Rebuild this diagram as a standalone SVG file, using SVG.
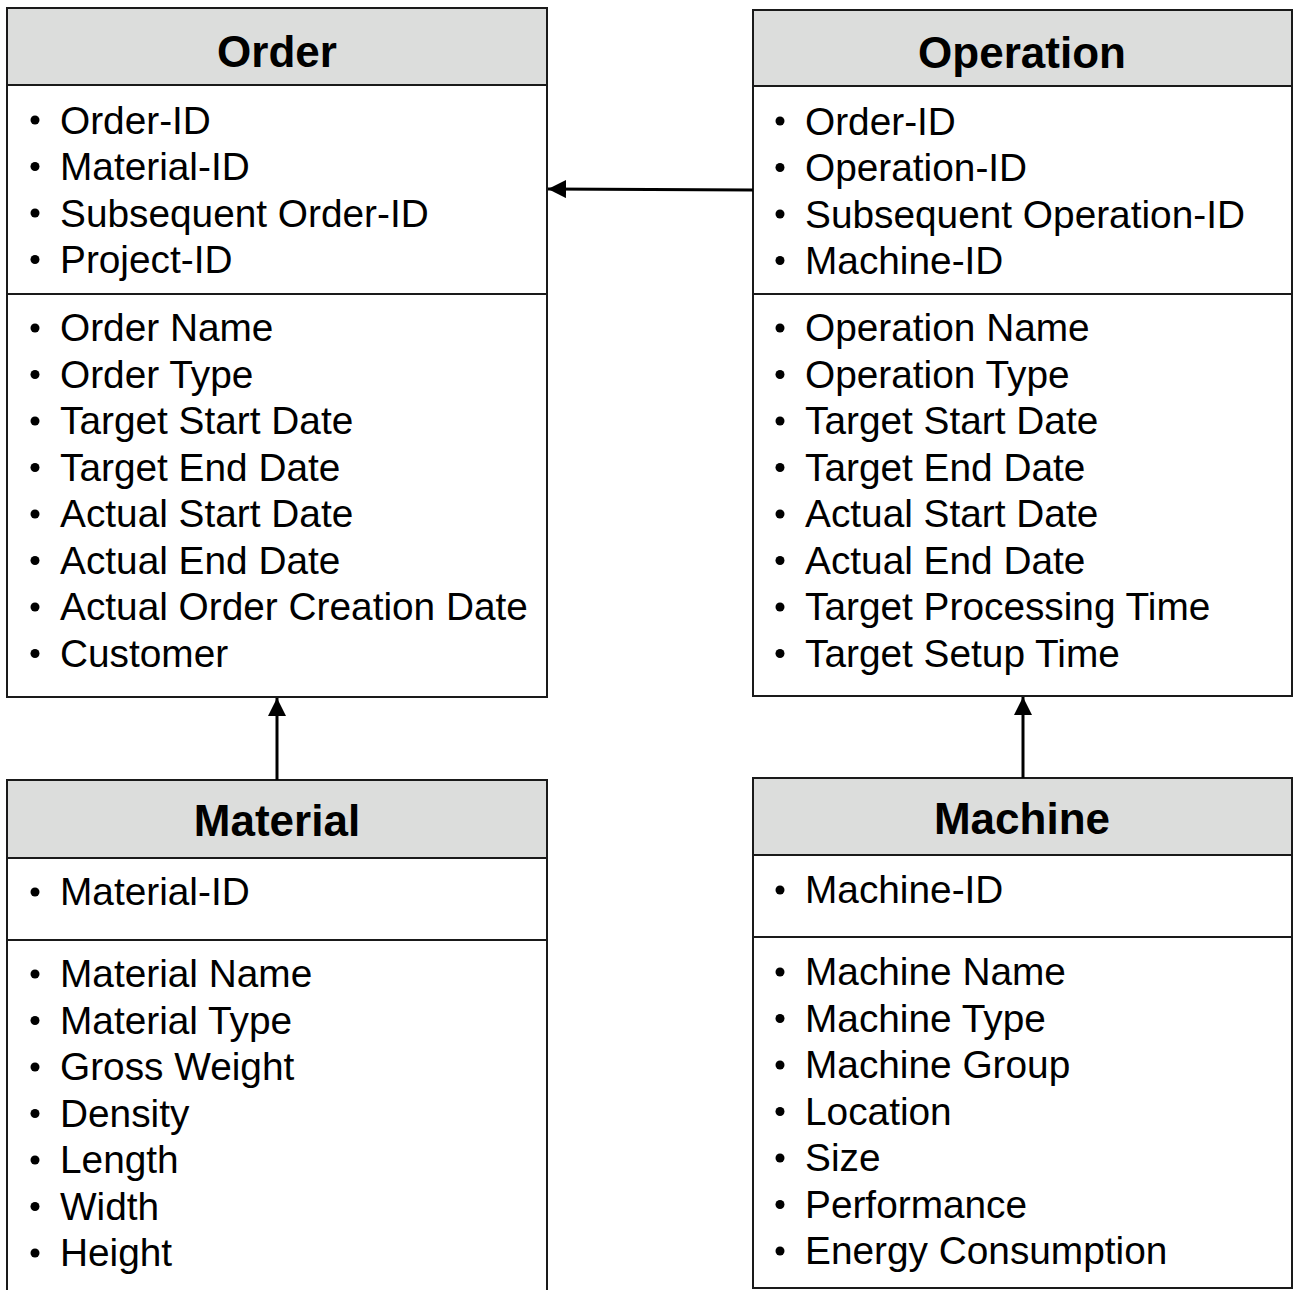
<svg xmlns="http://www.w3.org/2000/svg" width="1293" height="1290" viewBox="0 0 1293 1290">
<defs>
<style>
.box{fill:#ffffff;stroke:#1a1a1a;stroke-width:2}
.hdr{fill:#dcdddc;stroke:#1a1a1a;stroke-width:2}
.div{stroke:#1a1a1a;stroke-width:2}
.title{font-family:"Liberation Sans",Arial,sans-serif;font-weight:bold;font-size:44px;fill:#000;text-anchor:middle}
.item{font-family:"Liberation Sans",Arial,sans-serif;font-size:38.8px;fill:#000}
.bul{fill:#000}
.conn{stroke:#000;stroke-width:3;fill:none}
</style>
<marker id="arr" viewBox="0 0 10 10" refX="10" refY="5" markerWidth="6" markerHeight="6" markerUnits="strokeWidth" orient="auto">
<path d="M0,0 L10,5 L0,10 Z" fill="#000"/>
</marker>
</defs>
<rect width="1293" height="1290" fill="#ffffff"/>

<g id="order">
<rect class="box" x="7" y="8" width="540" height="689"/>
<rect class="hdr" x="7" y="8" width="540" height="77"/>
<line class="div" x1="7" y1="294" x2="547" y2="294"/>
<text class="title" x="277" y="67">Order</text>
<g class="bul">
<circle cx="35" cy="120" r="4.5"/><circle cx="35" cy="166.5" r="4.5"/><circle cx="35" cy="213" r="4.5"/><circle cx="35" cy="259.5" r="4.5"/>
<circle cx="35" cy="328" r="4.5"/><circle cx="35" cy="374.5" r="4.5"/><circle cx="35" cy="421" r="4.5"/><circle cx="35" cy="467.5" r="4.5"/><circle cx="35" cy="514" r="4.5"/><circle cx="35" cy="560.5" r="4.5"/><circle cx="35" cy="607" r="4.5"/><circle cx="35" cy="653.5" r="4.5"/>
</g>
<text class="item" x="60" y="133.5">Order-ID</text>
<text class="item" x="60" y="180">Material-ID</text>
<text class="item" x="60" y="226.5">Subsequent Order-ID</text>
<text class="item" x="60" y="273">Project-ID</text>
<text class="item" x="60" y="341">Order Name</text>
<text class="item" x="60" y="387.5">Order Type</text>
<text class="item" x="60" y="434">Target Start Date</text>
<text class="item" x="60" y="480.5">Target End Date</text>
<text class="item" x="60" y="527">Actual Start Date</text>
<text class="item" x="60" y="573.5">Actual End Date</text>
<text class="item" x="60" y="620">Actual Order Creation Date</text>
<text class="item" x="60" y="666.5">Customer</text>
</g>

<g id="operation">
<rect class="box" x="753" y="10" width="539" height="686"/>
<rect class="hdr" x="753" y="10" width="539" height="76"/>
<line class="div" x1="753" y1="294" x2="1292" y2="294"/>
<text class="title" x="1022" y="68">Operation</text>
<g class="bul">
<circle cx="780" cy="121" r="4.5"/><circle cx="780" cy="167.5" r="4.5"/><circle cx="780" cy="214" r="4.5"/><circle cx="780" cy="260.5" r="4.5"/>
<circle cx="780" cy="328" r="4.5"/><circle cx="780" cy="374.5" r="4.5"/><circle cx="780" cy="421" r="4.5"/><circle cx="780" cy="467.5" r="4.5"/><circle cx="780" cy="514" r="4.5"/><circle cx="780" cy="560.5" r="4.5"/><circle cx="780" cy="607" r="4.5"/><circle cx="780" cy="653.5" r="4.5"/>
</g>
<text class="item" x="805" y="134.5">Order-ID</text>
<text class="item" x="805" y="181">Operation-ID</text>
<text class="item" x="805" y="227.5">Subsequent Operation-ID</text>
<text class="item" x="805" y="274">Machine-ID</text>
<text class="item" x="805" y="341">Operation Name</text>
<text class="item" x="805" y="387.5">Operation Type</text>
<text class="item" x="805" y="434">Target Start Date</text>
<text class="item" x="805" y="480.5">Target End Date</text>
<text class="item" x="805" y="527">Actual Start Date</text>
<text class="item" x="805" y="573.5">Actual End Date</text>
<text class="item" x="805" y="620">Target Processing Time</text>
<text class="item" x="805" y="666.5">Target Setup Time</text>
</g>

<g id="material">
<rect class="box" x="7" y="780" width="540" height="520"/>
<rect class="hdr" x="7" y="780" width="540" height="78"/>
<line class="div" x1="7" y1="940" x2="547" y2="940"/>
<text class="title" x="277" y="836">Material</text>
<g class="bul">
<circle cx="35" cy="892" r="4.5"/>
<circle cx="35" cy="974" r="4.5"/><circle cx="35" cy="1020.5" r="4.5"/><circle cx="35" cy="1067" r="4.5"/><circle cx="35" cy="1113.5" r="4.5"/><circle cx="35" cy="1160" r="4.5"/><circle cx="35" cy="1206.5" r="4.5"/><circle cx="35" cy="1253" r="4.5"/>
</g>
<text class="item" x="60" y="905">Material-ID</text>
<text class="item" x="60" y="987">Material Name</text>
<text class="item" x="60" y="1033.5">Material Type</text>
<text class="item" x="60" y="1080">Gross Weight</text>
<text class="item" x="60" y="1126.5">Density</text>
<text class="item" x="60" y="1173">Length</text>
<text class="item" x="60" y="1219.5">Width</text>
<text class="item" x="60" y="1266">Height</text>
</g>

<g id="machine">
<rect class="box" x="753" y="778" width="539" height="510"/>
<rect class="hdr" x="753" y="778" width="539" height="77"/>
<line class="div" x1="753" y1="937" x2="1292" y2="937"/>
<text class="title" x="1022" y="834">Machine</text>
<g class="bul">
<circle cx="780" cy="890" r="4.5"/>
<circle cx="780" cy="972" r="4.5"/><circle cx="780" cy="1018.5" r="4.5"/><circle cx="780" cy="1065" r="4.5"/><circle cx="780" cy="1111.5" r="4.5"/><circle cx="780" cy="1158" r="4.5"/><circle cx="780" cy="1204.5" r="4.5"/><circle cx="780" cy="1251" r="4.5"/>
</g>
<text class="item" x="805" y="903">Machine-ID</text>
<text class="item" x="805" y="985">Machine Name</text>
<text class="item" x="805" y="1031.5">Machine Type</text>
<text class="item" x="805" y="1078">Machine Group</text>
<text class="item" x="805" y="1124.5">Location</text>
<text class="item" x="805" y="1171">Size</text>
<text class="item" x="805" y="1217.5">Performance</text>
<text class="item" x="805" y="1264">Energy Consumption</text>
</g>

<g id="connectors">
<line class="conn" x1="753" y1="190" x2="548" y2="189" marker-end="url(#arr)"/>
<line class="conn" x1="277" y1="780" x2="277" y2="698" marker-end="url(#arr)"/>
<line class="conn" x1="1023" y1="778" x2="1023" y2="697" marker-end="url(#arr)"/>
</g>
</svg>
